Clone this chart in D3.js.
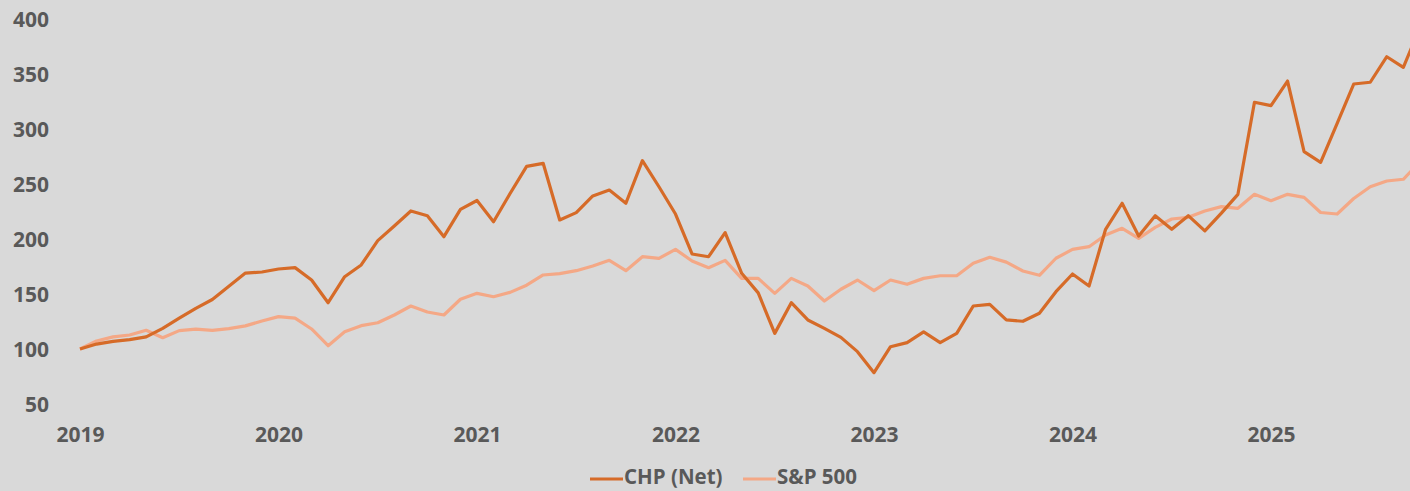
<!DOCTYPE html>
<html>
<head>
<meta charset="utf-8">
<script src="https://cdn.jsdelivr.net/npm/d3@7"></script>
<style>
  body { margin: 0; background: #d9d9d9; }
  svg { display: block; }
  text { font-family: "Open Sans", sans-serif; font-weight: bold; fill: #595959; }
</style>
</head>
<body>
<script>
// Monthly index values, Jan 2019 = 100 (one value per month)
var yearLabels = ["2019", "2020", "2021", "2022", "2023", "2024", "2025"];
var yTicks = [50, 100, 150, 200, 250, 300, 350, 400];

var chpNet = [
  100, 104.5, 107, 108.5, 111, 118.8, 128, 137, 145, 157, 169, 170,
  172.7, 174, 162.7, 142.1, 165.7, 176.4, 198.5, 211.8, 225.5, 221.2, 202.1, 227,
  235, 215.7, 241.4, 266, 268.8, 217.3, 224, 239.1, 244.5, 232.5, 271.2, 247.5,
  222.7, 186.4, 183.9, 205.8, 168.8, 151, 114.2, 142.1, 126.4, 118.8, 110.6, 97.6,
  78.5, 102.1, 105.8, 115.5, 105.8, 114.2, 139.1, 140.6, 126.4, 125.2, 132.5, 152.1,
  168.2, 157.3, 208.8, 232.5, 202.7, 221.2, 208.8, 221.2, 207.4, 223.5, 240.6, 324.3,
  321.2, 343.6, 279.4, 269.7, 305.2, 340.9, 342.5, 365.7, 356.1, 392
];

var sp500 = [
  100, 107.3, 111, 112.7, 117, 110.3, 116.7, 118, 117, 118.5, 121, 125.5,
  129.4, 128, 118.2, 103, 115.7, 121.2, 123.9, 130.9, 139.1, 133.6, 130.9, 145.2,
  150.6, 147.5, 151.5, 158, 167.3, 168.5, 171.2, 175.5, 180.6, 171.2, 183.9, 182.4,
  190.6, 180, 173.9, 180.6, 164.2, 164.2, 150.6, 164.2, 157.3, 143.6, 154.3, 162.7,
  153, 162.7, 158.8, 164.2, 166.6, 166.6, 177.9, 183.4, 179, 170.9, 167, 182.5,
  190.6, 193, 203.6, 209.7, 200.6, 210.6, 218.2, 219.7, 225.5, 229.4, 227.9, 240.6,
  234.8, 240.6, 237.9, 224.1, 222.7, 236.8, 247.5, 252.7, 254.3, 270
];

var seriesNames = ["CHP (Net)", "S&P 500"];
var seriesColors = ["#d66b28", "#f4a886"];

// Set up the SVG
var width = 1410;
var height = 491;

var svg = d3.select("body").append("svg")
    .attr("width", width)
    .attr("height", height);

svg.append("rect")
    .attr("width", width)
    .attr("height", height)
    .attr("fill", "#d9d9d9");

// Scales: x runs on month index, one year = 12 months
var x = d3.scaleLinear()
    .domain([0, 72])
    .range([80, 1271]);

var y = d3.scaleLinear()
    .domain([50, 400])
    .range([404, 19]);

// Y axis labels only, no ticks or domain line
var yAxis = svg.append("g")
    .attr("transform", "translate(49,0)")
    .call(d3.axisLeft(y).tickValues(yTicks).tickSize(0).tickPadding(0));
yAxis.select(".domain").remove();
yAxis.selectAll("text")
    .attr("font-size", 21)
    .attr("font-family", null)
    .attr("dy", "0.36em");

// X axis: one label per January
var xAxis = svg.append("g")
    .attr("transform", "translate(0,434)")
    .call(d3.axisBottom(x)
      .tickValues(d3.range(yearLabels.length).map(function(i) { return i * 12; }))
      .tickFormat(function(d, i) { return yearLabels[i]; })
      .tickSize(0).tickPadding(0));
xAxis.select(".domain").remove();
xAxis.selectAll("text")
    .attr("font-size", 21)
    .attr("font-family", null)
    .attr("dy", "0.36em");

// Lines
var line = d3.line()
    .x(function(d, i) { return x(i); })
    .y(function(d) { return y(d); });

var allSeries = [sp500, chpNet];
var allColors = [seriesColors[1], seriesColors[0]];

svg.selectAll(".series")
   .data(allSeries)
   .enter()
   .append("path")
   .attr("class", "series")
   .attr("d", line)
   .attr("fill", "none")
   .attr("stroke", function(d, i) { return allColors[i]; })
   .attr("stroke-width", 3.2)
   .attr("stroke-linejoin", "round");

// Legend
var legendX = [590, 743];
var legend = svg.selectAll(".legend")
   .data(seriesNames)
   .enter()
   .append("g")
   .attr("class", "legend")
   .attr("transform", function(d, i) { return "translate(" + legendX[i] + ",478)"; });

legend.append("line")
   .attr("x1", 0)
   .attr("x2", 33)
   .attr("y1", 1)
   .attr("y2", 1)
   .attr("stroke", function(d, i) { return seriesColors[i]; })
   .attr("stroke-width", 3);

legend.append("text")
   .attr("x", 34)
   .attr("dy", "0.3em")
   .attr("font-size", 20.5)
   .text(function(d) { return d; });
</script>
</body>
</html>
